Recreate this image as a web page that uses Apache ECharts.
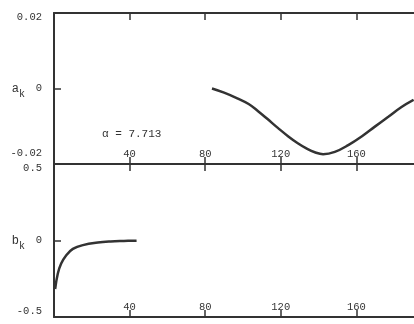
<!DOCTYPE html>
<html>
<head>
<meta charset="utf-8">
<script src="https://cdn.jsdelivr.net/npm/echarts@6/dist/echarts.min.js"></script>
<style>
  html, body { margin: 0; padding: 0; background: #fff; }
  #main { width: 414px; height: 324px; }
</style>
</head>
<body>
<div id="main"></div>
<script>
// a_k curve (k, value)
var akK = [83.6, 90, 97, 103, 108, 113, 118.6, 124, 129, 134, 138, 142.4, 148.6, 155.7, 162.8, 169.8, 176.9, 183.9, 190.3];
var akV = [0, -0.0011, -0.0026, -0.0041, -0.006, -0.0081, -0.0105, -0.0127, -0.0145, -0.016, -0.0169, -0.0174, -0.0168, -0.015, -0.0127, -0.0101, -0.0075, -0.0049, -0.003];
// b_k curve (k, value)
var bkK = [0.6, 2, 3.8, 6.5, 10, 15.3, 23.2, 30, 37, 43.7];
var bkV = [-0.317, -0.217, -0.151, -0.096, -0.055, -0.03, -0.013, -0.006, -0.003, -0.001];
var xTicks = [40, 80, 120, 160];
var alphaText = 'α = 7.713';

var ink = '#333';
var font = 'Liberation Mono';

function pairs(xs, ys) {
	return xs.map(function (x, i) { return [x, ys[i]]; });
}

var myChart = echarts.init(document.getElementById('main'));

// x axis builder
function xAx(grid, pos, labels) {
	return {
		type: 'value', gridIndex: grid, position: pos,
		min: 0, max: 190.5,
		axisLine: { show: true, onZero: false, lineStyle: { color: ink, width: 2 } },
		axisTick: { show: true, inside: true, length: 7, customValues: xTicks, lineStyle: { color: ink, width: 1.5 } },
		axisLabel: labels ? {
			show: true, inside: true, margin: 4, customValues: xTicks,
			color: ink, fontFamily: font, fontSize: 10.5
		} : { show: false },
		splitLine: { show: false }
	};
}

function yAx(grid, lim, name, hi, lo) {
	return {
		type: 'value', gridIndex: grid,
		min: -lim, max: lim, interval: lim,
		name: name, nameLocation: 'middle', nameGap: 29, nameRotate: 0,
		nameMoveOverlap: false,
		nameTextStyle: {
			rich: {
				a: { fontFamily: font, fontSize: 12, color: ink },
				k: { fontFamily: font, fontSize: 10, color: ink, padding: [12, 0, 0, 0] }
			}
		},
		axisLine: { show: true, lineStyle: { color: ink, width: 2 } },
		axisTick: { show: true, inside: true, length: 7, customValues: [0], lineStyle: { color: ink, width: 1.5 } },
		axisLabel: {
			margin: 12, color: ink, fontFamily: font, fontSize: 10.5,
			formatter: function (v) {
				if (v > 0) return '{t|' + hi + '}';
				if (v < 0) return '{b|' + lo + '}';
				return '{m|0}';
			},
			rich: {
				t: { fontFamily: font, fontSize: 10.5, color: ink, padding: [8, 0, 0, 0] },
				b: { fontFamily: font, fontSize: 10.5, color: ink, padding: [0, 0, grid === 0 ? 22 : 12, 0] },
				m: { fontFamily: font, fontSize: 10.5, color: ink }
			}
		},
		splitLine: { show: false }
	};
}

option = {
	backgroundColor: '#fff',
	animation: false,
	title: {
		text: alphaText, left: 97, top: 124,
		textStyle: { fontFamily: font, fontSize: 11, fontWeight: 'normal', color: ink }
	},
	grid: [
		{ left: 54, right: 0, top: 13, height: 151, containLabel: false, outerBoundsMode: 'none' },
		{ left: 54, right: 0, top: 164, height: 153, containLabel: false, outerBoundsMode: 'none' }
	],
	xAxis: [
		xAx(0, 'bottom', true),
		xAx(0, 'top', false),
		xAx(1, 'top', false),
		xAx(1, 'bottom', true)
	],
	yAxis: [
		yAx(0, 0.02, '{a|a}{k|k}', '0.02', '-0.02'),
		yAx(1, 0.5, '{a|b}{k|k}', '0.5', '-0.5')
	],
	series: [{
		name: 'ak', type: 'line', xAxisIndex: 0, yAxisIndex: 0,
		smooth: 0.4, showSymbol: false,
		lineStyle: { color: '#333', width: 2.5 },
		data: pairs(akK, akV)
	}, {
		name: 'bk', type: 'line', xAxisIndex: 3, yAxisIndex: 1,
		smooth: 0.4, showSymbol: false,
		lineStyle: { color: '#333', width: 2.5 },
		data: pairs(bkK, bkV)
	}]
};
myChart.setOption(option);
</script>
</body>
</html>
